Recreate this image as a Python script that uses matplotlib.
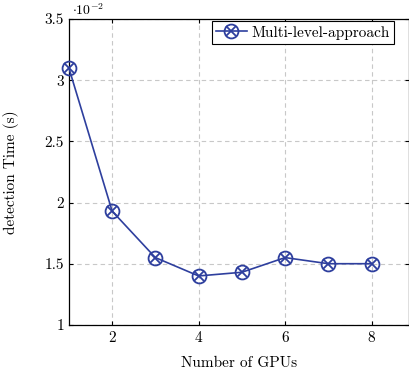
import matplotlib
matplotlib.use("Agg")
from matplotlib import pyplot as plt
from matplotlib.legend_handler import HandlerTuple

# Data (detection time in seconds)
gpus = [1, 2, 3, 4, 5, 6, 7, 8]
detectionTime = [0.0310, 0.0193, 0.0155, 0.0140, 0.0143, 0.0155, 0.0150, 0.0150]
scale = 1e-2
seriesName = "Multi-level-approach"

plt.rcParams["font.family"] = ["cmr10", "DejaVu Serif"]
plt.rcParams["mathtext.fontset"] = "cm"
plt.rcParams["axes.formatter.use_mathtext"] = True

color = "#2e3f9e"
fig = plt.figure(figsize=(4.10, 3.73), dpi=100)
ax = fig.add_axes([0.168, 0.129, 0.830, 0.820])

yVals = [v / scale for v in detectionTime]
line, = ax.plot(gpus, yVals, color=color, linewidth=1.2, marker="o",
                markersize=10, markerfacecolor="none", markeredgewidth=1.3,
                clip_on=False, zorder=3)
cross, = ax.plot(gpus, yVals, linestyle="none", marker="x", color=color,
                 markersize=7, markeredgewidth=1.3, clip_on=False, zorder=4)

ax.set_xlim(1, 8.87)
ax.set_ylim(1, 3.5)
ax.set_xticks([2, 4, 6, 8])
ax.set_yticks([1, 1.5, 2, 2.5, 3, 3.5])
ax.set_yticklabels(["1", "1.5", "2", "2.5", "3", "3.5"])
ax.grid(True, color="#c8c8c8", linestyle=(0, (4, 3)), linewidth=0.8)
ax.set_axisbelow(True)
ax.tick_params(direction="in", length=3, labelsize=11, top=True, right=True)
for s in ax.spines.values():
    s.set_linewidth(0.9)

ax.set_xlabel("Number of GPUs", fontsize=11, labelpad=8)
ax.set_ylabel("detection Time (s)", fontsize=11)
ax.yaxis.set_label_coords(-0.147, 0.5)
ax.text(0.008, 1.004, r"$\cdot 10^{-2}$", transform=ax.transAxes,
        fontsize=10, ha="left", va="bottom")

leg = ax.legend([(line, cross)], [seriesName], loc="upper right",
                bbox_to_anchor=(0.956, 0.993),
                handler_map={tuple: HandlerTuple(ndivide=1, pad=0)},
                fancybox=False, edgecolor="black", framealpha=1,
                fontsize=11, borderaxespad=0, handlelength=2.0,
                handletextpad=0.3, borderpad=0.3)
leg.get_frame().set_linewidth(0.8)

plt.savefig("out.png", dpi=100)
